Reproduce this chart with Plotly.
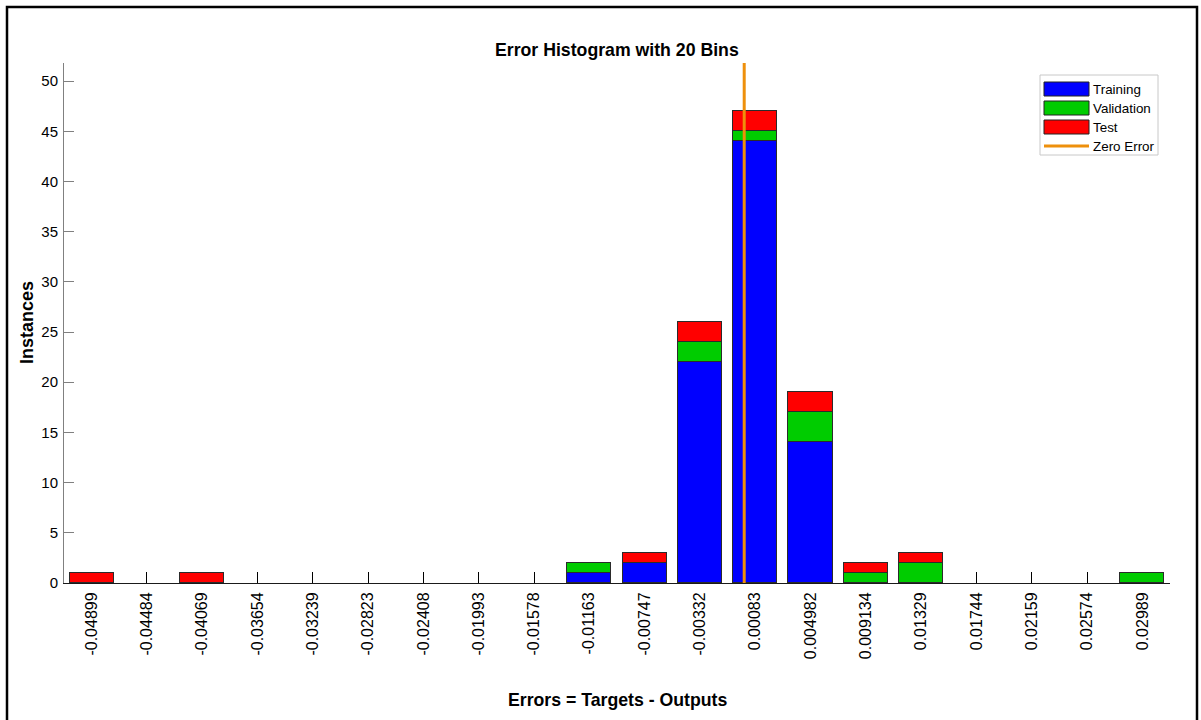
import plotly.graph_objects as go

# Bin centres of the error histogram and their axis labels
bin_centers = [-0.04899, -0.04484, -0.04069, -0.03654, -0.03239, -0.02823, -0.02408,
               -0.01993, -0.01578, -0.01163, -0.00747, -0.00332, 0.00083, 0.004982,
               0.009134, 0.01329, 0.01744, 0.02159, 0.02574, 0.02989]
tick_labels = ["-0.04899", "-0.04484", "-0.04069", "-0.03654", "-0.03239", "-0.02823",
               "-0.02408", "-0.01993", "-0.01578", "-0.01163", "-0.00747", "-0.00332",
               "0.00083", "0.004982", "0.009134", "0.01329", "0.01744", "0.02159",
               "0.02574", "0.02989"]

# Instances per bin for each data split
training = [0, 0, 0, 0, 0, 0, 0, 0, 0, 1, 2, 22, 44, 14, 0, 0, 0, 0, 0, 0]
validation = [0, 0, 0, 0, 0, 0, 0, 0, 0, 1, 0, 2, 1, 3, 1, 2, 0, 0, 0, 1]
test = [1, 0, 1, 0, 0, 0, 0, 0, 0, 0, 1, 2, 2, 2, 1, 1, 0, 0, 0, 0]

zero_error = 0.0
y_ticks = [0, 5, 10, 15, 20, 25, 30, 35, 40, 45, 50]
y_max = 51.8

# Figure geometry (pixels)
W, H = 1201, 720
ML, MR, MT, MB = 64, 31, 63, 137
PW, PH = W - ML - MR, H - MT - MB

bin_w = (bin_centers[-1] - bin_centers[0]) / (len(bin_centers) - 1)

FONT = "Liberation Sans, Arial, sans-serif"
EDGE = dict(color="#2b2b2b", width=1)
BLUE, GREEN, RED, ORANGE = "#0000FF", "#00CC00", "#FF0000", "#EE900C"


def px(x):
    return (x - ML) / PW


def py(y):
    return (H - MB - y) / PH


fig = go.Figure()
for name, vals, col in [("Training", training, BLUE),
                        ("Validation", validation, GREEN),
                        ("Test", test, RED)]:
    # empty bins are left blank instead of drawing a flat outline on the axis
    heights = [v if v else None for v in vals]
    fig.add_trace(go.Bar(x=bin_centers, y=heights, name=name, width=0.8 * bin_w,
                         marker=dict(color=col, line=EDGE), showlegend=False))

# Zero error marker
fig.add_trace(go.Scatter(x=[zero_error, zero_error], y=[0, y_max], mode="lines",
                         line=dict(color=ORANGE, width=3), name="Zero Error",
                         showlegend=False))

shapes = []
annotations = []

# Outer figure frame
shapes.append(dict(type="rect", xref="paper", yref="paper",
                   x0=px(7), x1=px(1197), y0=py(745), y1=py(7),
                   line=dict(color="black", width=2.5), fillcolor="rgba(0,0,0,0)"))

# Legend box
shapes.append(dict(type="rect", xref="paper", yref="paper",
                   x0=px(1040), x1=px(1158), y0=py(155), y1=py(75),
                   line=dict(color="#c8c8c8", width=1), fillcolor="white"))
legend_rows = [("Training", BLUE, 89), ("Validation", GREEN, 108), ("Test", RED, 127)]
for label, col, yc in legend_rows:
    shapes.append(dict(type="rect", xref="paper", yref="paper",
                       x0=px(1044), x1=px(1089), y0=py(yc + 7), y1=py(yc - 7),
                       line=dict(color="#222222", width=1), fillcolor=col))
    annotations.append(dict(text=label, xref="paper", yref="paper", x=px(1091), y=py(yc),
                            xanchor="left", yanchor="middle", showarrow=False,
                            font=dict(family=FONT, size=13.4, color="black")))
shapes.append(dict(type="line", xref="paper", yref="paper",
                   x0=px(1044), x1=px(1089), y0=py(146), y1=py(146),
                   line=dict(color=ORANGE, width=3)))
annotations.append(dict(text="Zero Error", xref="paper", yref="paper", x=px(1091), y=py(146),
                        xanchor="left", yanchor="middle", showarrow=False,
                        font=dict(family=FONT, size=13.4, color="black")))

# Title and axis labels
annotations.append(dict(text="<b>Error Histogram with 20 Bins</b>", xref="paper", yref="paper",
                        x=px(617), y=py(50), xanchor="center", yanchor="middle",
                        showarrow=False, font=dict(family=FONT, size=17.7, color="black")))
annotations.append(dict(text="<b>Errors = Targets - Outputs</b>", xref="paper", yref="paper",
                        x=px(617), y=py(700), xanchor="center", yanchor="middle",
                        showarrow=False, font=dict(family=FONT, size=17.7, color="black")))
annotations.append(dict(text="<b>Instances</b>", xref="paper", yref="paper",
                        x=px(27), y=py(323), xanchor="center", yanchor="middle",
                        textangle=-90, showarrow=False,
                        font=dict(family=FONT, size=18, color="black")))

fig.update_layout(
    width=W, height=H,
    margin=dict(l=ML, r=MR, t=MT, b=MB, pad=0),
    barmode="stack",
    bargap=0,
    plot_bgcolor="white",
    paper_bgcolor="white",
    font=dict(family=FONT, size=15, color="black"),
    shapes=shapes,
    annotations=annotations,
    showlegend=False,
)
fig.update_xaxes(
    range=[bin_centers[0] - bin_w / 2, bin_centers[-1] + bin_w / 2],
    tickmode="array", tickvals=bin_centers, ticktext=tick_labels,
    tickangle=-90, ticks="inside", ticklen=11, tickcolor="black", tickwidth=1,
    showline=True, linecolor="#1a1a1a", linewidth=1, layer="below traces",
    showgrid=False, zeroline=False, ticklabelstandoff=2,
    tickfont=dict(family=FONT, size=16, color="black"),
)
fig.update_yaxes(
    range=[0, y_max], tickmode="array", tickvals=y_ticks,
    ticks="inside", ticklen=10, tickcolor="#808080", tickwidth=1,
    showline=True, linecolor="#808080", linewidth=1, layer="below traces",
    showgrid=False, zeroline=False, ticklabelstandoff=2,
    tickfont=dict(family=FONT, size=15, color="black"),
)

fig.write_html("out.html")
